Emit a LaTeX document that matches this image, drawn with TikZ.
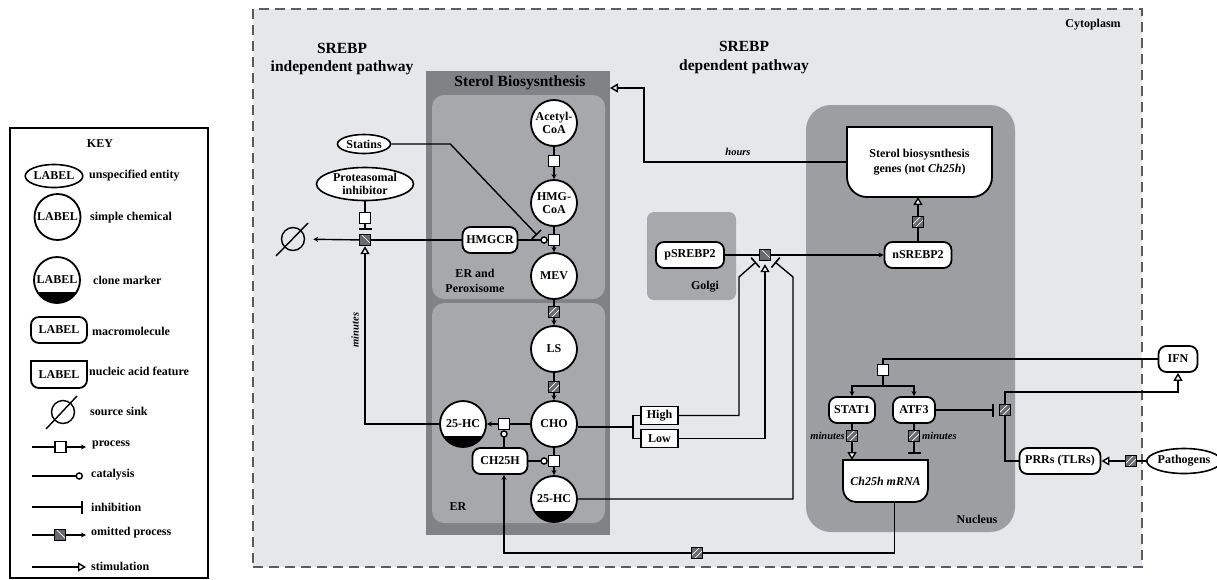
\documentclass[tikz,border=0pt]{standalone}
\usepackage{fontspec}
\setmainfont{Liberation Serif}
\usepackage{xcolor}
\usepackage{tikz}
\usetikzlibrary{positioning,calc,arrows.meta,shapes.geometric}
\pgfdeclarelayer{back}
\pgfdeclarelayer{mid}
\pgfsetlayers{back,mid,main}
\definecolor{cytofill}{RGB}{230,231,233}
\definecolor{sterolgray}{RGB}{128,130,133}
\definecolor{orggray}{RGB}{166,168,171}
\definecolor{nucgray}{RGB}{157,158,162}
\definecolor{dashgray}{RGB}{90,91,94}
\definecolor{omitfill}{RGB}{105,106,109}
% outline of a nucleic acid feature: square top, rounded bottom
\newcommand{\nafshape}[2]{%
  \begin{pgfonlayer}{mid}
    \draw[nafline] (#1.north west) -- (#1.north east)
      -- ([yshift=#2]#1.south east)
      .. controls ([yshift=0.45*#2]#1.south east) and ([xshift=-0.45*#2]#1.south east) .. ([xshift=-#2]#1.south east)
      -- ([xshift=#2]#1.south west)
      .. controls ([xshift=0.45*#2]#1.south west) and ([yshift=0.45*#2]#1.south west) .. ([yshift=#2]#1.south west)
      -- cycle;
  \end{pgfonlayer}}

\begin{document}
\begin{tikzpicture}[x=1pt,y=-1pt]
	\tikzset{
		every node/.style={font=\fontsize{12}{13}\selectfont\bfseries, inner sep=1pt},
		head/.style={font=\fontsize{15.5}{18.5}\selectfont\bfseries, align=center},
		lbl/.style={font=\fontsize{10.5}{12}\selectfont\bfseries\itshape},
		chem/.style={
			circle, draw, line width=1.8pt, fill=white,
			minimum size=46pt, inner sep=0pt, align=center
		},
		clone/.style={
			chem,
			path picture={\fill[black] (path picture bounding box.south west) rectangle ([yshift=11pt]path picture bounding box.south east);}
		},
		macro/.style={
			rectangle, rounded corners=8pt, draw, line width=1.8pt, fill=white,
			minimum height=26pt, inner sep=2pt
		},
		ent/.style={ellipse, draw, line width=1.6pt, fill=white, inner sep=0pt, align=center},
		procsq/.style={rectangle, draw, line width=1.4pt, fill=white, minimum size=11pt, inner sep=0pt},
		omit/.style={
			procsq, fill=omitfill,
			path picture={
				\draw[white, line width=0.7pt] ([xshift=3pt]path picture bounding box.south west) -- ([yshift=-3pt]path picture bounding box.north east);
				\draw[white, line width=0.7pt] ([yshift=3pt]path picture bounding box.south west) -- ([xshift=-3pt]path picture bounding box.north east);
			}
		},
		omitb/.style={
			procsq, fill=omitfill,
			path picture={
				\draw[white, line width=0.7pt] ([xshift=2pt]path picture bounding box.north west) -- ([yshift=2pt]path picture bounding box.south east);
			}
		},
		nafeat/.style={rectangle, draw=none, inner sep=0pt, outer sep=0pt, align=center},
		nafline/.style={draw=black, line width=1.8pt, fill=white},
		unitbox/.style={rectangle, draw, line width=1.6pt, fill=white, minimum width=37pt, minimum height=18pt, inner sep=0pt},
		sink/.style={circle, draw, line width=1.4pt, minimum size=23pt, inner sep=0pt},
		comp/.style={rectangle, draw=none, inner sep=0pt, outer sep=0pt},
		lnk/.style={line width=1.4pt},
		rxn/.style={lnk, -{Stealth[length=5pt,width=5pt]}},
		stim/.style={lnk, -{Triangle[open,length=8pt,width=9pt,fill=white]}},
		inh/.style={lnk, -{Bar[width=13pt,line width=1.6pt]}},
		catal/.style={lnk, -{Circle[open,length=7.5pt,fill=white]}}
	}
	\useasboundingbox (0,0) rectangle (1217,579);

	% ======= compartments =======
	\begin{pgfonlayer}{back}
		\node[comp, draw=black, line width=1.3pt, fill=white, minimum width=198pt, minimum height=450pt] (keybox) at (109,353) {};
		\node[comp, fill=cytofill, draw=dashgray, line width=1.5pt, dash pattern=on 10pt off 6pt,
			minimum width=889pt, minimum height=558pt] (cyto) at (697.5,288) {};
		\node[comp, fill=sterolgray, minimum width=184pt, minimum height=464pt] (sterol) at (518,303) {};
		\node[comp, fill=orggray, rounded corners=12pt, minimum width=173pt, minimum height=204pt] (erpx) at (518.5,197) {};
		\node[comp, fill=orggray, rounded corners=12pt, minimum width=173pt, minimum height=220pt] (er) at (518.5,413) {};
		\node[comp, fill=orggray, rounded corners=7pt, minimum width=89pt, minimum height=88pt] (golgi) at (691.5,256) {};
		\node[comp, fill=nucgray, rounded corners=25pt, minimum width=209pt, minimum height=427pt] (nucleus) at (910.5,318.5) {};
	\end{pgfonlayer}

	\node (cytot) at (1093,25) {Cytoplasm};
	\node[head] (srebpi) at (342,59) {SREBP\\independent pathway};
	\node[head] (srebpd) at (744,57.5) {SREBP\\dependent pathway};
	\node[head] (sterolt) at (520,83) {Sterol Biosysnthesis};
	\node[align=center, font=\fontsize{12}{15}\selectfont\bfseries] (erpxt) at (475,280.5) {ER and\\Peroxisome};
	\node (ert) at (458,507) {ER};
	\node (golgit) at (705,287) {Golgi};
	\node (nuct) at (977,519) {Nucleus};

	% ======= KEY =======
	\node (keyt) at (100,144) {KEY};
	\node[ent, minimum width=52pt, minimum height=23pt] (kent) at (54,176) {LABEL};
	\node[chem] (kchem) at (57.5,217) {LABEL};
	\node[clone] (kclone) at (57,280) {LABEL};
	\node[macro, minimum width=56pt] (kmac) at (59,330) {LABEL};
	\node[nafeat, minimum width=56pt, minimum height=27pt] (knaf) at (59,374.5) {LABEL};
	\nafshape{knaf}{8pt}
	\node[sink] (ksink) at (63,412) {};
	\draw[lnk] ([shift={(-17,17)}]ksink.center) -- ([shift={(14,-16)}]ksink.center);
	\foreach \x/\y/\t [count=\i] in {88/176/unspecified entity, 89/218/simple chemical, 92/280/clone marker,
			91/331/macromolecule, 88/371/nucleic acid feature, 89/411/source sink, 91/445/process,
			90/475/catalysis, 90/507/inhibition, 90/533/omitted process, 90/566/stimulation}
		\node[anchor=west] (kt\i) at (\x,\y) {\t};

	\coordinate (kpa) at (32,447);
	\node[procsq] (kpsq) at (60.5,447) {};
	\coordinate (kpb) at (86,447);
	\draw[lnk] (kpa) -- (kpsq);
	\draw[rxn] (kpsq) -- (kpb);
	\coordinate (kca) at (32,476);
	\coordinate (kcb) at (83,476);
	\draw[catal] (kca) -- (kcb);
	\coordinate (kia) at (32,507);
	\coordinate (kib) at (83,507);
	\draw[inh] (kia) -- (kib);
	\coordinate (koa) at (32,535);
	\node[omitb] (kosq) at (60,535) {};
	\coordinate (kob) at (86,535);
	\draw[lnk] (koa) -- (kosq);
	\draw[rxn] (kosq) -- (kob);
	\coordinate (ksa) at (32,567);
	\coordinate (ksb) at (86,567);
	\draw[stim] (ksa) -- (ksb);

	% ======= Sterol biosynthesis column =======
	\node[chem] (acoa) at (554,123) {Acetyl-\\CoA};
	\node[procsq] (p1) at (554,161) {};
	\node[chem] (hcoa) at (554,203) {HMG-\\CoA};
	\node[procsq] (p2) at (554,240) {};
	\node[chem] (mev) at (554,276) {MEV};
	\node[omit] (o1) at (554,312) {};
	\node[chem] (ls) at (554,349) {LS};
	\node[omit] (o2) at (554,387) {};
	\node[chem] (cho) at (554,424) {CHO};
	\node[procsq] (p3) at (554,461) {};
	\node[clone] (hcb) at (554,499) {25-HC};
	\node[procsq] (p4) at (504,424) {};
	\node[clone] (hcl) at (463,424) {25-HC};
	\node[macro, minimum width=55pt] (ch25h) at (500,461) {CH25H};
	\node[macro, minimum width=55pt] (hmgcr) at (490,240) {HMGCR};

	\draw[lnk] (acoa) -- (p1);
	\draw[rxn] (p1) -- (hcoa);
	\draw[lnk] (hcoa) -- (p2);
	\draw[rxn] (p2) -- (mev);
	\draw[lnk] (mev) -- (o1);
	\draw[rxn] (o1) -- (ls);
	\draw[lnk] (ls) -- (o2);
	\draw[rxn] (o2) -- (cho);
	\draw[lnk] (cho) -- (p3);
	\draw[rxn] (p3) -- (hcb);
	\draw[lnk] (cho) -- (p4);
	\draw[rxn] (p4) -- (hcl);
	\draw[catal] (hmgcr) -- (p2);
	\draw[catal] (ch25h) -- (p3);
	\draw[catal] (ch25h.north -| p4) -- (p4);

	% ======= SREBP independent: statins, proteasome =======
	\node[ent, minimum width=53pt, minimum height=19pt] (statins) at (364,144) {Statins};
	\coordinate (stend) at (537,235);
	\draw[inh] (statins.east) -- ++(59,0) -- (stend);

	\node[ent, minimum width=97pt, minimum height=33pt] (prot) at (365,184) {Proteasomal\\inhibitor};
	\node[procsq] (pp) at (365,218) {};
	\node[omitb] (op) at (365,240) {};
	\node[sink] (snk) at (293,239) {};
	\draw[lnk] ([shift={(-17,17)}]snk.center) -- ([shift={(15,-16)}]snk.center);
	\draw[lnk] (prot) -- (pp);
	\draw[inh, shorten >=4pt] (pp) -- (op);
	\draw[lnk] (hmgcr) -- (op);
	\draw[rxn, shorten >=8pt] (op) -- (snk);
	\draw[stim] (hcl.west) -| (op.south);
	\node[lbl, rotate=90] (minl) at (355,330) {minutes};

	% ======= SREBP dependent: Golgi -> nucleus =======
	\node[macro, minimum width=68pt] (psrebp) at (690,255) {pSREBP2};
	\node[omitb] (og) at (765,255) {};
	\node[macro, minimum width=67pt] (nsrebp) at (918,255) {nSREBP2};
	\draw[lnk] (psrebp) -- (og);
	\draw[rxn] (og) -- (nsrebp);

	\node[unitbox] (high) at (659.5,415.5) {High};
	\node[unitbox] (low) at (659.5,438.5) {Low};
	\coordinate (brk) at (633,427);
	\draw[lnk] (cho.east |- brk) -- (brk);
	\draw[lnk] (high.west) -| (brk) |- (low.west);
	\coordinate (hiA) at (739,277);
	\coordinate (hiB) at (756,262);
	\draw[inh] (high.east) -| (hiA) -- (hiB);
	\draw[stim, shorten >=3pt] (low.east) -| (og.south);
	\coordinate (hcA) at (793,277);
	\coordinate (hcB) at (775,262);
	\draw[inh] (hcb.east) -| (hcA) -- (hcB);

	\node[nafeat, minimum width=145pt, minimum height=70pt, font=\fontsize{12}{15.5}\selectfont\bfseries] (genes) at (919.5,162) {Sterol biosysnthesis\\genes (not \textit{Ch25h})};
	\nafshape{genes}{20pt}
	\node[omit] (on) at (918,222) {};
	\draw[lnk] (nsrebp) -- (on);
	\draw[stim] (on.north) -- (on.north |- genes.south);
	\coordinate (hrs) at (644,88);
	\draw[stim] (genes.west) -| (hrs) -- (hrs -| sterol.east);
	\node[lbl] (hrst) at (738,152) {hours};

	% ======= IFN / pathogens -> Ch25h mRNA =======
	\node[macro, minimum width=39pt] (ifn) at (1178,359) {IFN};
	\node[procsq] (pi) at (883,370) {};
	\coordinate (brs) at (883,386);
	\node[macro, minimum width=46pt] (stat1) at (852,410) {STAT1};
	\node[macro, minimum width=42pt] (atf3) at (914,410) {ATF3};
	\draw[lnk] (ifn.west) -| (pi.north);
	\draw[lnk] (pi) -- (brs);
	\draw[rxn] (brs) -| (stat1.north);
	\draw[rxn] (brs) -| (atf3.north);

	\node[omit] (os) at (852,436) {};
	\node[omit] (oa) at (914,436) {};
	\node[nafeat, minimum width=85pt, minimum height=42pt] (mrna) at (885.5,481) {\textit{Ch25h mRNA}};
	\nafshape{mrna}{13pt}
	\draw[lnk] (stat1) -- (os);
	\draw[stim] (os.south) -- (os.south |- mrna.north);
	\draw[lnk] (atf3) -- (oa);
	\draw[inh, shorten >=6pt] (oa.south) -- (oa.south |- mrna.north);
	\node[lbl, anchor=east] (mins) at (846,436) {minutes};
	\node[lbl, anchor=west] (mina) at (921,436) {minutes};

	\node[omit] (or) at (1005,410) {};
	\node[macro, minimum width=81pt] (prrs) at (1060,461) {PRRs (TLRs)};
	\node[ent, minimum width=64pt, minimum height=25pt] (pathg) at (1184,461) {Pathogens};
	\node[omit] (ot) at (1131,461) {};
	\draw[inh, shorten >=5pt] (atf3) -- (or);
	\draw[lnk] (prrs.west) -| (or.south);
	\coordinate (cpr) at (1005,392);
	\draw[stim] (or.north) -- (cpr) -| (ifn.south);
	\draw[lnk] (pathg) -- (ot);
	\draw[stim] (ot) -- (prrs);

	% ======= Ch25h mRNA -> CH25H =======
	\node[omit] (ob) at (697,553) {};
	\draw[lnk] ([xshift=9pt]mrna.south) |- (ob.east);
	\draw[rxn] (ob.west) -| (ch25h.south -| p4);
\end{tikzpicture}
\end{document}
